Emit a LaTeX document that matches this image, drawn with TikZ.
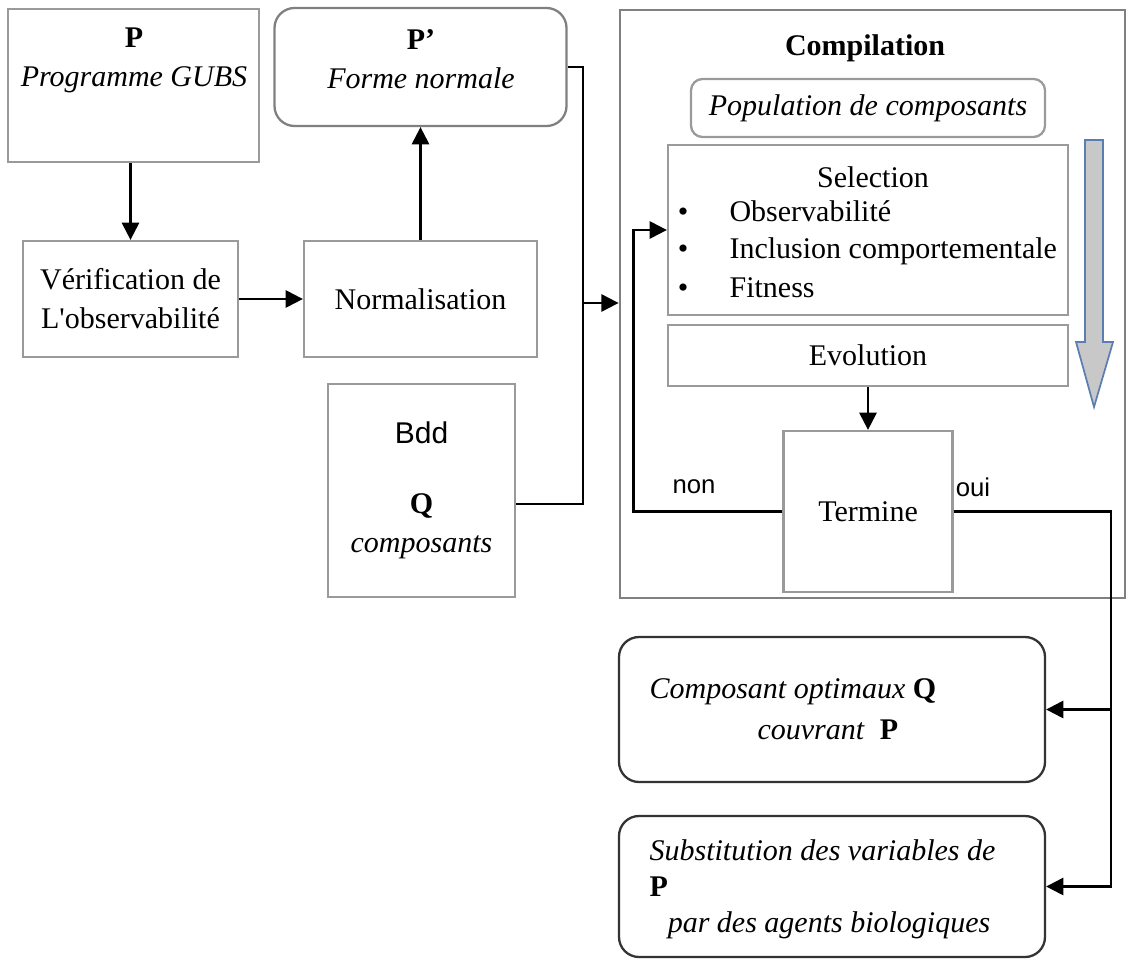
\documentclass[tikz,border=0pt]{standalone}
\usepackage{fontspec}
\setmainfont{Liberation Serif}
\setsansfont{Liberation Sans}
\usetikzlibrary{arrows.meta}

\definecolor{boxgray}{HTML}{9A9A9A}
\definecolor{framegray}{HTML}{808080}
\definecolor{darkline}{HTML}{333333}
\definecolor{arrowfill}{HTML}{C8C8C8}
\definecolor{arrowedge}{HTML}{5B7DB1}

\begin{document}
\begin{tikzpicture}[x=0.35pt,y=-0.35pt,
    font=\fontsize{10.5}{13.6}\selectfont,
    >={Triangle[length=6pt,width=6pt]},
    sized/.style 2 args={minimum width=#1*0.35pt,minimum height=#2*0.35pt},
    box/.style={draw=boxgray,line width=0.8pt,inner sep=0pt,align=center},
    roundbox/.style={box,rounded corners=7pt},
    txt/.style={inner sep=0pt,align=center},
    link/.style={line width=0.8pt}]
   \useasboundingbox (0,0) rectangle (1127,959);

   % left part
   \node[box,sized={251}{153}] (prog) at (133.5,85.5) {};
   \node[txt] (progtxt) at (134,60) {\textbf{P}\\\textit{Programme GUBS}};
   \node[box,sized={215}{116}] (verif) at (130.5,299) {Vérification de\\L\textquotesingle observabilité};
   \node[box,sized={233}{116}] (norm) at (420.5,299) {Normalisation};
   \node[roundbox,draw=framegray,sized={292}{118}] (formenorm) at (420.5,67) {};
   \node[txt] (formenormtxt) at (421,59) {\textbf{P’}\\\textit{Forme normale}};
   \node[box,sized={187}{213}] (bdd) at (421.5,490.5)
        {\sffamily Bdd\\[11pt]\textbf{Q}\\\textit{composants}};

   \draw[link,->] (prog.south -| verif.north) -- (verif.north);
   \draw[link,->] (verif) -- (norm);
   \draw[link,->] (norm) -- (formenorm);

   \coordinate (bus) at (583,303);
   \draw[link] (formenorm.east) -| (bus);
   \draw[link] ([yshift=-4.7pt]bdd.east) -| (bus);

   % compilation
   \node[draw=framegray,line width=1pt,sized={505}{588}] (compil) at (872.5,304) {};
   \draw[link,->] (bus) -- (bus -| compil.west);
   \node[txt] (compiltitle) at (865,48) {\textbf{Compilation}};
   \node[roundbox,rounded corners=4pt,sized={354}{58}] (popu) at (868,108) {\textit{Population de composants}};
   \node[box,sized={400}{170}] (selec) at (868,230) {};
   \node[txt] (seltitle) at (873,177) {Selection};
   \foreach \yy/\crit [count=\i] in {222/Observabilité,259/Inclusion comportementale,297/Fitness}{
      \node[txt,anchor=base] (bul\i) at (683,\yy) {\textbullet};
      \node[txt,anchor=base west] (crit\i) at (729,\yy) {\crit};
   }
   \node[box,sized={400}{61}] (evol) at (868,355.5) {Evolution};
   \node[box,sized={169}{161}] (termine) at (868,511.5) {Termine};

   \filldraw[fill=arrowfill,draw=arrowedge,line width=0.6pt]
      (1085,140) -- (1103,140) -- (1103,342) -- (1113,342) -- (1094,407)
      -- (1076,342) -- (1085,342) -- cycle;

   \draw[link,->] (evol) -- (termine);
   \draw[link,->] (termine.west) -- ++(-149,0) |- (selec.west);
   \node[txt] (nonlbl) at (694,487) {\sffamily\fontsize{9}{11}\selectfont non};
   \node[txt] (ouilbl) at (973,487) {\sffamily\fontsize{9}{11}\selectfont oui};

   % results
   \node[roundbox,draw=darkline,sized={426}{145}] (optim) at (832,709.5) {};
   \node[txt,anchor=west] (optimtxt1) at (649,692) {\textit{Composant optimaux} \textbf{Q}};
   \node[txt,anchor=west] (optimtxt2) at (757,730) {\textit{couvrant}\enspace\textbf{P}};
   \node[roundbox,draw=darkline,sized={426}{141}] (subst) at (832,886.5) {};
   \node[txt,anchor=west] (substtxt1) at (649,850) {\textit{Substitution des variables de}};
   \node[txt,anchor=west] (substtxt2) at (649,887) {\textbf{P}};
   \node[txt] (substtxt3) at (829,925) {\textit{par des agents biologiques}};

   \draw[link,->] (termine.east) -- ++(157,0) |- (subst.east);
   \coordinate (tap) at (1109.5,709.5);
   \draw[link,->] (tap) -- (optim.east);
 \end{tikzpicture}
\end{document}
